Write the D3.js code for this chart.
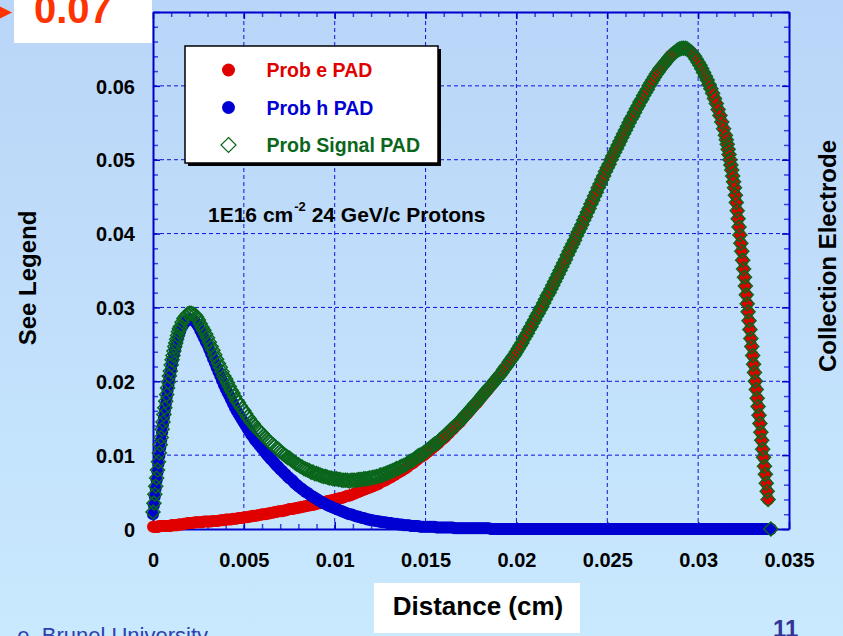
<!DOCTYPE html>
<html><head><meta charset="utf-8">
<script src="https://cdn.jsdelivr.net/npm/d3@7"></script>
<style>
html,body{margin:0;padding:0;overflow:hidden;background:#c4e0fc;}
svg{display:block;}
text{font-family:Arial,"Liberation Sans",Helvetica,sans-serif;}
</style>
</head><body>
<script>
// ---------------- DATA ----------------
// x grid (cm): fine steps where the curves are steep
const gridSegments = [
  {start: 0,      step: 0.00005, count: 30},
  {start: 0.0015, step: 0.0001,  count: 300},
  {start: 0.0315, step: 0.00005, count: 48},
  {start: 0.034,  step: 0,       count: 1}
];

const probE = [
0.0003,0.0003,0.0003,0.0003,0.0003,0.0003,0.0003,0.0004,0.0004,0.0004,
0.0004,0.0004,0.0004,0.0004,0.0004,0.0004,0.0004,0.0004,0.0004,0.0004,
0.0005,0.0005,0.0005,0.0005,0.0005,0.0005,0.0005,0.0005,0.0006,0.0006,
0.0006,0.0006,0.0007,0.0007,0.0008, 0.0008,0.0008,0.0008,0.0009,0.0009,
0.0009,0.0009,0.0009,0.0010,0.0010, 0.0010,0.0010,0.0010,0.0011,0.0011,
0.0011,0.0011,0.0012,0.0012,0.0012, 0.0013,0.0013,0.0013,0.0013,0.0014,
0.0014,0.0014,0.0015,0.0015,0.0015, 0.0016,0.0016,0.0016,0.0017,0.0017,
0.0018,0.0018,0.0018,0.0019,0.0019, 0.0020,0.0020,0.0020,0.0021,0.0021,
0.0022,0.0022,0.0023,0.0023,0.0024, 0.0024,0.0024,0.0025,0.0025,0.0026,
0.0027,0.0027,0.0027,0.0028,0.0028, 0.0029,0.0029,0.0030,0.0030,0.0031,
0.0031,0.0032,0.0032,0.0033,0.0033, 0.0034,0.0035,0.0035,0.0036,0.0036,
0.0037,0.0038,0.0038,0.0039,0.0039, 0.0040,0.0041,0.0041,0.0042,0.0042,
0.0043,0.0044,0.0045,0.0045,0.0046, 0.0047,0.0048,0.0049,0.0050,0.0051,
0.0052,0.0053,0.0054,0.0055,0.0056, 0.0057,0.0058,0.0059,0.0060,0.0061,
0.0063,0.0064,0.0065,0.0066,0.0068, 0.0069,0.0070,0.0072,0.0073,0.0075,
0.0076,0.0078,0.0079,0.0081,0.0082, 0.0084,0.0086,0.0088,0.0089,0.0091,
0.0093,0.0095,0.0097,0.0098,0.0100, 0.0102,0.0104,0.0106,0.0108,0.0110,
0.0112,0.0114,0.0116,0.0119,0.0121, 0.0123,0.0125,0.0128,0.0130,0.0133,
0.0135,0.0138,0.0140,0.0143,0.0145, 0.0148,0.0151,0.0154,0.0156,0.0159,
0.0162,0.0165,0.0168,0.0170,0.0173, 0.0176,0.0179,0.0182,0.0185,0.0188,
0.0191,0.0194,0.0197,0.0200,0.0203, 0.0206,0.0209,0.0212,0.0216,0.0219,
0.0222,0.0226,0.0229,0.0233,0.0236, 0.0240,0.0244,0.0248,0.0252,0.0257,
0.0261,0.0265,0.0270,0.0274,0.0279, 0.0283,0.0288,0.0292,0.0297,0.0301,
0.0306,0.0311,0.0316,0.0320,0.0325, 0.0330,0.0335,0.0340,0.0345,0.0350,
0.0355,0.0360,0.0365,0.0371,0.0376, 0.0381,0.0386,0.0391,0.0397,0.0402,
0.0407,0.0412,0.0418,0.0423,0.0429, 0.0434,0.0440,0.0445,0.0451,0.0456,
0.0462,0.0467,0.0473,0.0478,0.0484, 0.0489,0.0494,0.0500,0.0505,0.0510,
0.0515,0.0520,0.0525,0.0530,0.0535, 0.0540,0.0545,0.0550,0.0555,0.0559,
0.0564,0.0569,0.0573,0.0578,0.0582, 0.0587,0.0591,0.0595,0.0600,0.0604,
0.0608,0.0612,0.0616,0.0619,0.0623, 0.0626,0.0629,0.0632,0.0635,0.0638,
0.0641,0.0643,0.0645,0.0647,0.0649, 0.0650,0.0651,0.0651,0.0651,0.0650,
0.0648,0.0646,0.0643,0.0640,0.0636, 0.0632,0.0628,0.0623,0.0618,0.0613,
0.0608,0.0602,0.0596,0.0590,0.0583, 0.0576,0.0568,0.0560,0.0551,0.0542,
0.0533,0.0527,0.0521,0.0514,0.0507,0.0500,0.0493,0.0486,0.0478,0.0470,
0.0462,0.0452,0.0442,0.0431,0.0420,0.0409,0.0398,0.0387,0.0376,0.0364,
0.0352,0.0341,0.0329,0.0317,0.0305,0.0294,0.0282,0.0270,0.0258,0.0247,
0.0235,0.0223,0.0212,0.0200,0.0189,0.0177,0.0166,0.0154,0.0143,0.0131,
0.0120,0.0108,0.0097,0.0085,0.0074,0.0062,0.0051,0.0040,
0
];

const probH = [
0.0020,0.0032,0.0044,0.0055,0.0066,0.0077,0.0088,0.0099,0.0110,0.0120,
0.0131,0.0141,0.0151,0.0160,0.0169,0.0178,0.0187,0.0195,0.0203,0.0210,
0.0217,0.0224,0.0230,0.0236,0.0242,0.0247,0.0252,0.0257,0.0261,0.0265,
0.0268,0.0274,0.0278,0.0281,0.0283, 0.0284,0.0284,0.0283,0.0281,0.0278,
0.0274,0.0269,0.0264,0.0259,0.0254, 0.0249,0.0243,0.0237,0.0231,0.0225,
0.0219,0.0213,0.0207,0.0201,0.0195, 0.0190,0.0185,0.0180,0.0175,0.0170,
0.0165,0.0160,0.0156,0.0152,0.0148, 0.0144,0.0140,0.0136,0.0132,0.0128,
0.0125,0.0121,0.0118,0.0115,0.0112, 0.0109,0.0106,0.0103,0.0100,0.0097,
0.0094,0.0092,0.0089,0.0086,0.0084, 0.0081,0.0079,0.0076,0.0074,0.0071,
0.0069,0.0067,0.0065,0.0062,0.0060, 0.0058,0.0056,0.0054,0.0052,0.0050,
0.0049,0.0047,0.0045,0.0044,0.0042, 0.0041,0.0039,0.0038,0.0036,0.0035,
0.0034,0.0032,0.0031,0.0030,0.0029, 0.0028,0.0027,0.0026,0.0025,0.0024,
0.0023,0.0022,0.0021,0.0020,0.0020, 0.0019,0.0018,0.0017,0.0017,0.0016,
0.0015,0.0015,0.0014,0.0013,0.0013, 0.0012,0.0012,0.0011,0.0011,0.0010,
0.0010,0.0009,0.0009,0.0009,0.0008, 0.0008,0.0008,0.0007,0.0007,0.0007,
0.0006,0.0006,0.0006,0.0005,0.0005, 0.0005,0.0005,0.0004,0.0004,0.0004,
0.0004,0.0004,0.0003,0.0003,0.0003, 0.0003,0.0003,0.0003,0.0003,0.0003,
0.0003,0.0002,0.0002,0.0002,0.0002, 0.0002,0.0002,0.0002,0.0002,0.0002,
0.0002,0.0001,0.0001,0.0001,0.0001, 0.0001,0.0001,0.0001,0.0001,0.0001,
0.0001,0.0001,0.0001,0.0001,0.0001, 0.0001,0.0001,0.0001,0.0001,0.0001,
0.0001,0,0,0,0, 0,0,0,0,0,
0,0,0,0,0, 0,0,0,0,0, 0,0,0,0,0, 0,0,0,0,0, 0,0,0,0,0,
0,0,0,0,0, 0,0,0,0,0, 0,0,0,0,0, 0,0,0,0,0, 0,0,0,0,0,
0,0,0,0,0, 0,0,0,0,0, 0,0,0,0,0, 0,0,0,0,0, 0,0,0,0,0,
0,0,0,0,0, 0,0,0,0,0, 0,0,0,0,0, 0,0,0,0,0, 0,0,0,0,0,
0,0,0,0,0, 0,0,0,0,0, 0,0,0,0,0, 0,0,0,0,0,
0,0,0,0,0, 0,0,0,0,0, 0,0,0,0,0, 0,0,0,0,0, 0,0,0,0,0,
0,0,0,0,0, 0,0,0,0,0, 0,0,0,0,0, 0,0,0,0,0, 0,0,0,
0
];

const probSignal = [
0.0023,0.0035,0.0047,0.0058,0.0069,0.0080,0.0091,0.0103,0.0114,0.0124,
0.0135,0.0145,0.0155,0.0164,0.0173,0.0182,0.0191,0.0199,0.0207,0.0214,
0.0222,0.0229,0.0235,0.0241,0.0247,0.0252,0.0257,0.0262,0.0267,0.0271,
0.0274,0.0280,0.0285,0.0288,0.0291, 0.0292,0.0292,0.0291,0.0290,0.0287,
0.0283,0.0278,0.0273,0.0269,0.0264, 0.0259,0.0253,0.0247,0.0242,0.0236,
0.0230,0.0224,0.0219,0.0213,0.0207, 0.0203,0.0198,0.0193,0.0188,0.0184,
0.0179,0.0174,0.0171,0.0167,0.0163, 0.0160,0.0156,0.0152,0.0149,0.0145,
0.0143,0.0139,0.0136,0.0134,0.0131, 0.0129,0.0126,0.0123,0.0121,0.0118,
0.0116,0.0114,0.0112,0.0109,0.0108, 0.0105,0.0103,0.0101,0.0099,0.0097,
0.0096,0.0094,0.0092,0.0090,0.0088, 0.0087,0.0085,0.0084,0.0082,0.0081,
0.0080,0.0079,0.0077,0.0077,0.0075, 0.0075,0.0074,0.0073,0.0072,0.0071,
0.0071,0.0070,0.0069,0.0069,0.0068, 0.0068,0.0068,0.0067,0.0067,0.0066,
0.0066,0.0066,0.0066,0.0065,0.0066, 0.0066,0.0066,0.0066,0.0067,0.0067,
0.0067,0.0068,0.0068,0.0068,0.0069, 0.0069,0.0070,0.0070,0.0071,0.0071,
0.0073,0.0073,0.0074,0.0075,0.0076, 0.0077,0.0078,0.0079,0.0080,0.0082,
0.0082,0.0084,0.0085,0.0086,0.0087, 0.0089,0.0091,0.0092,0.0093,0.0095,
0.0097,0.0099,0.0100,0.0101,0.0103, 0.0105,0.0107,0.0109,0.0111,0.0113,
0.0115,0.0116,0.0118,0.0121,0.0123, 0.0125,0.0127,0.0130,0.0132,0.0135,
0.0137,0.0139,0.0141,0.0144,0.0146, 0.0149,0.0152,0.0155,0.0157,0.0160,
0.0163,0.0166,0.0169,0.0171,0.0174, 0.0177,0.0180,0.0183,0.0186,0.0189,
0.0192,0.0194,0.0197,0.0200,0.0203, 0.0206,0.0209,0.0212,0.0216,0.0219,
0.0222,0.0226,0.0229,0.0233,0.0236, 0.0240,0.0244,0.0248,0.0252,0.0257,
0.0261,0.0265,0.0270,0.0274,0.0279, 0.0283,0.0288,0.0292,0.0297,0.0301,
0.0306,0.0311,0.0316,0.0320,0.0325, 0.0330,0.0335,0.0340,0.0345,0.0350,
0.0355,0.0360,0.0365,0.0371,0.0376, 0.0381,0.0386,0.0391,0.0397,0.0402,
0.0407,0.0412,0.0418,0.0423,0.0429, 0.0434,0.0440,0.0445,0.0451,0.0456,
0.0462,0.0467,0.0473,0.0478,0.0484, 0.0489,0.0494,0.0500,0.0505,0.0510,
0.0515,0.0520,0.0525,0.0530,0.0535, 0.0540,0.0545,0.0550,0.0555,0.0559,
0.0564,0.0569,0.0573,0.0578,0.0582, 0.0587,0.0591,0.0595,0.0600,0.0604,
0.0608,0.0612,0.0616,0.0619,0.0623, 0.0626,0.0629,0.0632,0.0635,0.0638,
0.0641,0.0643,0.0645,0.0647,0.0649, 0.0650,0.0651,0.0651,0.0651,0.0650,
0.0648,0.0646,0.0643,0.0640,0.0636, 0.0632,0.0628,0.0623,0.0618,0.0613,
0.0608,0.0602,0.0596,0.0590,0.0583, 0.0576,0.0568,0.0560,0.0551,0.0542,
0.0533,0.0527,0.0521,0.0514,0.0507,0.0500,0.0493,0.0486,0.0478,0.0470,
0.0462,0.0452,0.0442,0.0431,0.0420,0.0409,0.0398,0.0387,0.0376,0.0364,
0.0352,0.0341,0.0329,0.0317,0.0305,0.0294,0.0282,0.0270,0.0258,0.0247,
0.0235,0.0223,0.0212,0.0200,0.0189,0.0177,0.0166,0.0154,0.0143,0.0131,
0.0120,0.0108,0.0097,0.0085,0.0074,0.0062,0.0051,0.0040,
0
];

const seriesNames = ["Prob e PAD", "Prob h PAD", "Prob Signal PAD"];
const xTicks = [0, 0.005, 0.01, 0.015, 0.02, 0.025, 0.03, 0.035];
const xTickLabels = ["0", "0.005", "0.01", "0.015", "0.02", "0.025", "0.03", "0.035"];
const yTicks = [0, 0.01, 0.02, 0.03, 0.04, 0.05, 0.06, 0.07];
const yTickLabels = ["0", "0.01", "0.02", "0.03", "0.04", "0.05", "0.06", ""]; // 0.07 is shown by the callout box
const xMinorTicks = [0.001,0.002,0.003,0.004,0.006,0.007,0.008,0.009,0.011,0.012,0.013,0.014,0.016,0.017,0.018,0.019,0.021,0.022,0.023,0.024,0.026,0.027,0.028,0.029,0.031,0.032,0.033,0.034];
const yMinorTicks = [0.002,0.004,0.006,0.008,0.012,0.014,0.016,0.018,0.022,0.024,0.026,0.028,0.032,0.034,0.036,0.038,0.042,0.044,0.046,0.048,0.052,0.054,0.056,0.058,0.062,0.064,0.066,0.068];
const annotationText = ["1E16 cm", "-2", " 24 GeV/c Protons"];
const calloutText = "0.07";

// ---------------- BUILD ----------------
const distance = [];
gridSegments.forEach(s => { for (let i = 0; i < s.count; i++) distance.push(+(s.start + i * s.step).toFixed(6)); });
const n = Math.min(distance.length, probE.length, probH.length, probSignal.length);
if (n !== distance.length || n !== probE.length || n !== probH.length || n !== probSignal.length)
  console.error("length mismatch", distance.length, probE.length, probH.length, probSignal.length);
const pts = d3.range(n).map(i => ({d: distance[i], e: probE[i], h: probH[i], s: probSignal[i]}));

const W = 843, H = 636;
const svg = d3.select("body").append("svg").attr("width", W).attr("height", H);
const defs = svg.append("defs");
const grad = defs.append("linearGradient").attr("id", "bg").attr("x1", 0).attr("y1", 0).attr("x2", 0).attr("y2", 1);
grad.append("stop").attr("offset", "0%").attr("stop-color", "#b9d5f8");
grad.append("stop").attr("offset", "100%").attr("stop-color", "#c9e9fe");
svg.append("rect").attr("width", W).attr("height", H).attr("fill", "url(#bg)");

const x = d3.scaleLinear().domain([0, 0.035]).range([153, 789]);
const y = d3.scaleLinear().domain([0, 0.07]).range([529, 12]);

const AX = "#0000cc", MINOR = "#2f44e0";

// grid
const grid = svg.append("g").attr("stroke", "#1010dd").attr("stroke-width", 1).attr("stroke-dasharray", "4,3");
grid.selectAll("line.gx").data(xTicks.slice(1, -1)).join("line").attr("class", "gx")
  .attr("x1", d => x(d)).attr("x2", d => x(d)).attr("y1", y(0)).attr("y2", y(0.07));
grid.selectAll("line.gy").data(yTicks.slice(1, -1)).join("line").attr("class", "gy")
  .attr("y1", d => y(d)).attr("y2", d => y(d)).attr("x1", x(0)).attr("x2", x(0.035));

function styleAxis(g, color, width) {
  g.select(".domain").attr("stroke", AX).attr("stroke-width", 2);
  g.selectAll(".tick line").attr("stroke", color).attr("stroke-width", width);
  g.selectAll(".tick text").attr("fill", "#000").attr("font-size", 20).attr("font-weight", "bold")
    .attr("font-family", 'Arial,"Liberation Sans",Helvetica,sans-serif');
}
// minor ticks
[[d3.axisBottom(x), `translate(0,${y(0)})`, xMinorTicks],
 [d3.axisTop(x), `translate(0,${y(0.07)})`, xMinorTicks],
 [d3.axisLeft(y), `translate(${x(0)},0)`, yMinorTicks],
 [d3.axisRight(y), `translate(${x(0.035)},0)`, yMinorTicks]].forEach(([ax, tr, tv]) => {
  const g = svg.append("g").attr("transform", tr)
    .call(ax.tickValues(tv).tickFormat("").tickSize(-5).tickSizeOuter(0));
  g.select(".domain").remove();
  g.selectAll(".tick line").attr("stroke", MINOR).attr("stroke-width", 1.5);
});
// major axes
const gxB = svg.append("g").attr("transform", `translate(0,${y(0)})`)
  .call(d3.axisBottom(x).tickValues(xTicks).tickFormat((d, i) => xTickLabels[i]).tickSize(-7).tickSizeOuter(0).tickPadding(24));
styleAxis(gxB, AX, 1.5);
const gxT = svg.append("g").attr("transform", `translate(0,${y(0.07)})`)
  .call(d3.axisTop(x).tickValues(xTicks).tickFormat("").tickSize(-7).tickSizeOuter(0));
styleAxis(gxT, AX, 1.5);
const gyL = svg.append("g").attr("transform", `translate(${x(0)},0)`)
  .call(d3.axisLeft(y).tickValues(yTicks).tickFormat((d, i) => yTickLabels[i]).tickSize(-7).tickSizeOuter(0).tickPadding(18));
styleAxis(gyL, AX, 1.5);
gyL.selectAll(".tick text").attr("dy", "0.36em");
const gyR = svg.append("g").attr("transform", `translate(${x(0.035)},0)`)
  .call(d3.axisRight(y).tickValues(yTicks).tickFormat("").tickSize(-7).tickSizeOuter(0));
styleAxis(gyR, AX, 1.5);

// data
const RED = "#e00000", BLUE = "#0000d2", GREEN = "#0a661b";
const diamond = h => `M0,${-h}L${h},0L0,${h}L${-h},0Z`;
svg.append("g").selectAll("circle").data(pts).join("circle")
  .attr("cx", p => x(p.d)).attr("cy", p => y(p.e)).attr("r", 6).attr("fill", RED);
svg.append("g").selectAll("circle").data(pts).join("circle")
  .attr("cx", p => x(p.d)).attr("cy", p => y(p.h)).attr("r", 6).attr("fill", BLUE);
svg.append("g").selectAll("path").data(pts).join("path")
  .attr("transform", p => `translate(${x(p.d)},${y(p.s)})`).attr("d", diamond(7))
  .attr("fill", "none").attr("stroke", GREEN).attr("stroke-width", 1.5);

// legend
const lg = svg.append("g");
lg.append("rect").attr("x", 188).attr("y", 49).attr("width", 253).attr("height", 117).attr("fill", "#000");
lg.append("rect").attr("x", 185).attr("y", 46).attr("width", 253).attr("height", 117).attr("fill", "#fff")
  .attr("stroke", "#000").attr("stroke-width", 1.5);
const legendColors = [RED, BLUE, GREEN];
const legendY = [70, 107.5, 145];
seriesNames.forEach((name, i) => {
  if (i < 2) lg.append("circle").attr("cx", 228.5).attr("cy", legendY[i]).attr("r", 6.5).attr("fill", legendColors[i]);
  else lg.append("path").attr("transform", `translate(228.5,${legendY[i]})`).attr("d", diamond(7.5))
    .attr("fill", "none").attr("stroke", GREEN).attr("stroke-width", 1.2);
  lg.append("text").attr("x", 266.5).attr("y", legendY[i] + 7).attr("font-size", 19.5).attr("font-weight", "bold")
    .attr("fill", legendColors[i]).text(name);
});

// annotation
const ann = svg.append("text").attr("x", 208).attr("y", 222).attr("font-size", 21).attr("font-weight", "bold").attr("fill", "#000");
ann.append("tspan").text(annotationText[0]);
ann.append("tspan").attr("dy", -11).attr("dx", 1).attr("font-size", 13).text(annotationText[1]);
ann.append("tspan").attr("dy", 11).text(annotationText[2]);

// axis titles
svg.append("text").attr("transform", "translate(36,278) rotate(-90)").attr("text-anchor", "middle")
  .attr("font-size", 24).attr("font-weight", "bold").attr("fill", "#000").text("See Legend");
svg.append("text").attr("transform", "translate(836,256) rotate(-90)").attr("text-anchor", "middle")
  .attr("font-size", 24).attr("font-weight", "bold").attr("fill", "#000").text("Collection Electrode");
svg.append("rect").attr("x", 374).attr("y", 583).attr("width", 206).attr("height", 50).attr("fill", "#fff");
svg.append("text").attr("x", 478).attr("y", 615).attr("text-anchor", "middle")
  .attr("font-size", 26).attr("font-weight", "bold").attr("fill", "#000").text("Distance (cm)");

// "0.07" callout
svg.append("rect").attr("x", 14).attr("y", 0).attr("width", 138).attr("height", 43).attr("fill", "#fff");
svg.append("text").attr("x", 34).attr("y", 23).attr("font-size", 40).attr("font-weight", "bold")
  .attr("fill", "#ff3300").text(calloutText);
svg.append("path").attr("d", "M-1,6L12,12.5L-1,19Z").attr("fill", "#ff3300");

// footer
svg.append("text").attr("x", 208).attr("y", 643).attr("text-anchor", "end").attr("font-size", 22)
  .attr("fill", "#3040b0").text("e, Brunel University");
svg.append("text").attr("x", 773).attr("y", 637).attr("font-size", 24).attr("font-weight", "bold")
  .attr("fill", "#333399").text("11");
</script>
</body></html>
